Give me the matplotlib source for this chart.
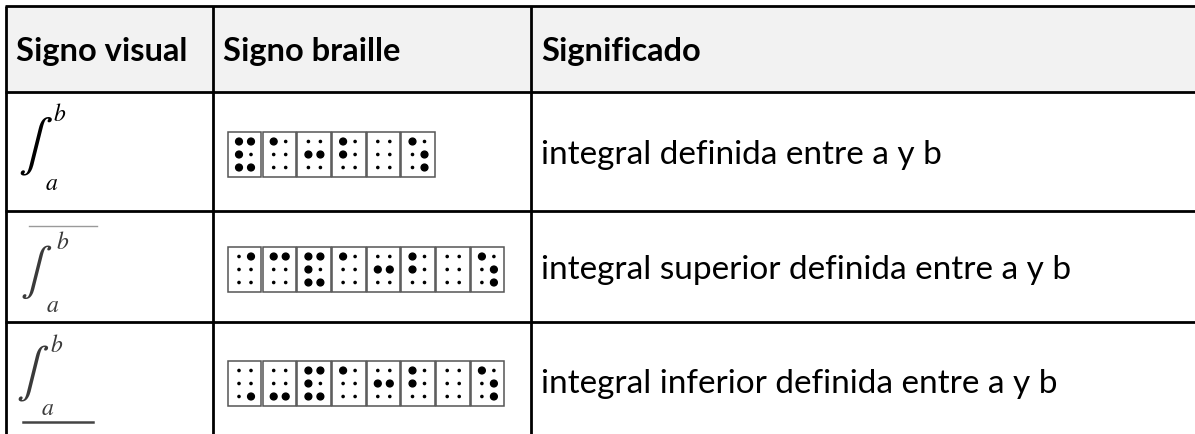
import matplotlib
matplotlib.use("Agg")
import matplotlib.pyplot as plt
from matplotlib.patches import Rectangle, Circle

# table content
headers = ["Signo visual", "Signo braille", "Significado"]
meanings = [
    "integral definida entre a y b",
    "integral superior definida entre a y b",
    "integral inferior definida entre a y b",
]
# braille cells per row, as lists of raised dot numbers (1-3 left column, 4-6 right)
braille_rows = [
    [[1, 2, 3, 4, 6], [1], [2, 5], [1, 2], [], [1, 5, 6]],
    [[4], [1, 4], [1, 2, 3, 4, 6], [1], [2, 5], [1, 2], [], [1, 5, 6]],
    [[6], [3, 6], [1, 2, 3, 4, 6], [1], [2, 5], [1, 2], [], [1, 5, 6]],
]
bar_kind = [None, "over", "under"]  # line above / below the integral

W, H = 1195, 435
fig = plt.figure(figsize=(W / 100, H / 100), dpi=100)
ax = fig.add_axes([0, 0, 1, 1])
ax.set_xlim(0, W)
ax.set_ylim(H, 0)
ax.axis("off")

font = "Lato"
col_x = [6, 213, 531]
row_y = [7, 93, 212, 323, 440]
lw = 2.0

# header background
ax.add_patch(Rectangle((col_x[0], row_y[0]), W - col_x[0], row_y[1] - row_y[0],
                       facecolor="#f2f2f2", edgecolor="none", zorder=0))

# grid
for y in row_y[:4]:
    ax.plot([col_x[0] - 1, W], [y, y], color="black", lw=lw, solid_capstyle="butt")
for x in col_x:
    ax.plot([x, x], [row_y[0], H], color="black", lw=lw, solid_capstyle="butt")

pad = 10
for i, h in enumerate(headers):
    ax.text(col_x[i] + pad, (row_y[0] + row_y[1]) / 2 + 2, h, fontsize=23.5,
            fontweight="bold", family=font, va="center", ha="left")

for r, text in enumerate(meanings):
    yc = (row_y[r + 1] + row_y[r + 2]) / 2
    ax.text(col_x[2] + pad, yc + 3, text, fontsize=24, family=font,
            va="center", ha="left")

# braille cells
cw, ch, pitch = 33.5, 45, 34.7
dot_dx = [11, 23]
dot_dy = [10, 23, 36]
for r, cells in enumerate(braille_rows):
    yc = (row_y[r + 1] + row_y[r + 2]) / 2 + 2.5
    y0 = yc - ch / 2
    for k, dots in enumerate(cells):
        x0 = col_x[1] + 15 + k * pitch
        ax.add_patch(Rectangle((x0, y0), cw, ch, facecolor="white",
                               edgecolor="#555555", lw=1.1, zorder=2))
        for d in range(1, 7):
            c = 0 if d <= 3 else 1
            rr = (d - 1) % 3
            big = d in dots
            ax.add_patch(Circle((x0 + dot_dx[c], y0 + dot_dy[rr]),
                                3.4 if big else 1.1, color="black", zorder=3))

# integral signs: (x, y, size) of the sign, and of the limits b / a
int_pos = [(35, 147, 37), (36, 272, 34), (33, 374, 35)]
b_pos = [(60, 114), (63, 242), (57, 345)]
a_pos = [(52, 183), (53, 305), (48, 408)]
for r, kind in enumerate(bar_kind):
    col = "black" if r == 0 else "#3a3a3a"
    ix, iy, isz = int_pos[r]
    ax.text(ix, iy, r"$\int$", fontsize=isz, color=col, ha="center", va="center",
            math_fontfamily="stix")
    ax.text(*b_pos[r], r"$b$", fontsize=17, color=col, ha="center",
            va="center", math_fontfamily="stix")
    ax.text(*a_pos[r], r"$a$", fontsize=17, color=col, ha="center",
            va="center", math_fontfamily="stix")
    if kind == "over":
        ax.plot([29, 97], [227, 227], color="#9a9a9a", lw=1.0)
    elif kind == "under":
        ax.plot([23, 93], [423, 423], color="#444444", lw=1.8)

fig.savefig("out.png", dpi=100)
